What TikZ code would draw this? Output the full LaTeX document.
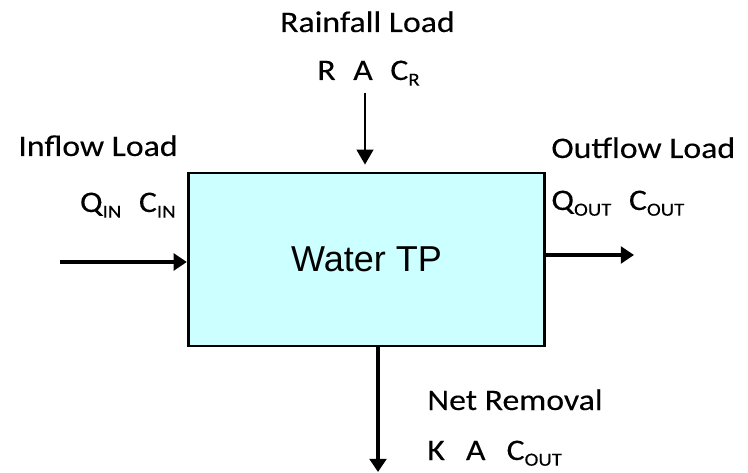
\documentclass[tikz,border=0pt]{standalone}
\usepackage{fontspec}
\setmainfont{Carlito}[FakeStretch=1.13,FakeBold=0.2]
\newfontfamily\arialfont{Liberation Sans}
\usetikzlibrary{arrows.meta}
\definecolor{tpcyan}{HTML}{CCFFFF}
\newcommand{\lowsub}[1]{\raisebox{-0.19em}{\fontsize{10.5}{11}\selectfont #1}}

\begin{document}
\begin{tikzpicture}[
  lbl/.style={font=\fontsize{17}{19}\selectfont, inner sep=0pt},
  thinflow/.style={line width=1.1pt, -{Triangle[length=8.5pt,width=9.5pt]}},
  thickflow/.style={line width=2.2pt, -{Triangle[length=7.5pt,width=9.5pt]}}]
\useasboundingbox (0,0) rectangle (14.96,9.44);
% Treatment plant
\node[draw, line width=1.6pt, fill=tpcyan, minimum width=7.13cm, minimum height=3.46cm,
  inner sep=0pt, font=\arialfont\fontsize{20.5}{22}\selectfont] (tp) at (7.33,4.25) {Water TP};
% Flows
\coordinate (rainTop) at (7.30,7.58);
\coordinate (inLeft) at (1.20,4.20);
\coordinate (outRight) at (12.68,4.34);
\coordinate (netBottom) at (7.56,0);
\draw[thinflow] (rainTop) -- ([yshift=0.14cm]tp.north -| rainTop);
\draw[thickflow] (inLeft) -- (inLeft -| tp.west);
\draw[thickflow] (outRight -| tp.east) -- (outRight);
\draw[thickflow] (netBottom |- tp.south) -- (netBottom);
% Labels
\node[lbl, anchor=base] (rainload) at (7.35,8.80) {Rainfall Load};
\node[lbl, anchor=base] (rainterm) at (7.37,7.84) {R\hspace{10pt}A\hspace{10pt}C\lowsub{R}};
\node[lbl, anchor=base east] (inload) at (3.56,6.32) {Inflow Load};
\node[lbl, anchor=base east] (interm) at (3.52,5.20) {Q\lowsub{IN}\hspace{10pt}C\lowsub{IN}};
\node[lbl, anchor=base west] (outload) at (11.02,6.28) {Outflow Load};
\node[lbl, anchor=base west] (outterm) at (11.02,5.24) {Q\lowsub{OUT}\hspace{10pt}C\lowsub{OUT}};
\node[lbl, anchor=base west] (netload) at (8.54,1.24) {Net Removal};
\node[lbl, anchor=base west] (netterm) at (8.54,0.24) {K\hspace{12pt}A\hspace{12pt}C\lowsub{OUT}};
\end{tikzpicture}
\end{document}
